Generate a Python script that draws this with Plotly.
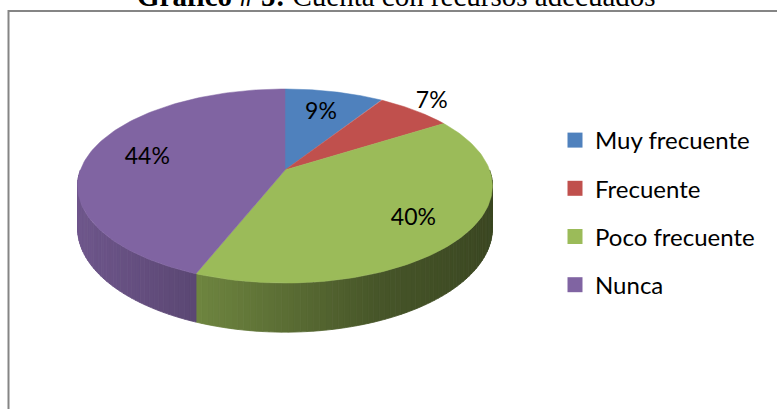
import numpy as np
import plotly.graph_objects as go

# ---- data ----
categories = ["Muy frecuente", "Frecuente", "Poco frecuente", "Nunca"]
values = [9, 7, 40, 44]
colors = ["#4f81bd", "#c0504d", "#9bbb59", "#8064a2"]
title_bold = "Gráfico # 5:"
title_rest = "Cuenta con recursos adecuados"

# ---- geometry / style (page-pixel space) ----
W, H = 777, 409
CX, CY = 285, 170          # projected hub
RX, RY = 204.6, 94.4       # radii
K = 0.165                  # perspective factor
DEPTH = 41                 # pie thickness
label_r = [0.7, 1.15, 0.75, 0.7]
shade_x = [77, 197, 375, 492]
shade_f = [0.86, 0.71, 0.46, 0.38]


def proj(theta, r=1.0, z=0.0):
    c = r * np.cos(theta)
    s = r * np.sin(theta)
    den = 1 + K * s
    return CX + RX * c / den, CY - RY * s / den + z / den


def shade(hexcol, f):
    h = hexcol.lstrip("#")
    rgb = [int(h[i:i + 2], 16) for i in (0, 2, 4)]
    return "rgb(%d,%d,%d)" % tuple(max(0, min(255, round(v * f))) for v in rgb)


total = sum(values)
cum = np.concatenate([[0], np.cumsum(values)])
starts = np.pi / 2 - 2 * np.pi * cum[:-1] / total
ends = np.pi / 2 - 2 * np.pi * cum[1:] / total

fig = go.Figure()

# ---- sides (front half only) ----
front_lo, front_hi = -np.pi, 0.0
for i in range(len(values)):
    a0, a1 = ends[i], starts[i]  # a0 < a1
    for off in (0.0, -2 * np.pi, 2 * np.pi):
        lo = max(a0 + off, front_lo)
        hi = min(a1 + off, front_hi)
        if hi <= lo:
            continue
        n = max(1, int(np.ceil((hi - lo) / np.radians(1.5))))
        edges = np.linspace(lo, hi, n + 1)
        for j in range(n):
            ta, tb = edges[j], edges[j + 1]
            ts = np.linspace(ta, tb, 4)
            xt, yt = proj(ts)
            xb, yb = proj(ts[::-1], z=DEPTH)
            xs = np.concatenate([xt, xb, xt[:1]])
            ys = np.concatenate([yt, yb, yt[:1]])
            f = float(np.interp(xt.mean(), shade_x, shade_f))
            col = shade(colors[i], f)
            fig.add_trace(go.Scatter(
                x=xs, y=ys, mode="lines", fill="toself", fillcolor=col,
                line=dict(color=col, width=0.8), hoverinfo="skip",
                showlegend=False))

# ---- top faces ----
for i in range(len(values)):
    ts = np.linspace(starts[i], ends[i], 120)
    xa, ya = proj(ts)
    xs = np.concatenate([[CX], xa, [CX]])
    ys = np.concatenate([[CY], ya, [CY]])
    fig.add_trace(go.Scatter(
        x=xs, y=ys, mode="lines", fill="toself", fillcolor=colors[i],
        line=dict(color=colors[i], width=0.5), hoverinfo="skip",
        showlegend=False))

# ---- data labels ----
mids = (starts + ends) / 2
lx, ly = [], []
for i in range(len(values)):
    x, y = proj(mids[i], r=label_r[i])
    lx.append(float(x))
    ly.append(float(y))
pct = [f"{round(v / total * 100)}%" for v in values]
fig.add_trace(go.Scatter(
    x=lx, y=ly, mode="text", text=pct,
    textfont=dict(family="Lato", size=23, color="#000000"),
    hoverinfo="skip", showlegend=False))

# ---- legend entries ----
for cat, col in zip(categories, colors):
    fig.add_trace(go.Scatter(
        x=[None], y=[None], mode="markers", name=cat, legendgroup=cat,
        marker=dict(symbol="square", size=15, color=col),
        hoverinfo="skip"))

# ---- frame & title ----
fig.add_shape(type="rect", xref="x", yref="y", x0=8.5, y0=11, x1=W + 40, y1=H + 40,
              line=dict(color="#858585", width=2), fillcolor="rgba(0,0,0,0)",
              layer="below")
fig.add_annotation(
    xref="x", yref="y", x=396.5, y=14, xanchor="center", yanchor="bottom",
    text=f"<b>{title_bold}</b> {title_rest}", showarrow=False,
    font=dict(family="Liberation Serif", size=29, color="#000000"))

fig.update_layout(
    width=W, height=H, margin=dict(l=0, r=0, t=0, b=0),
    paper_bgcolor="white", plot_bgcolor="white",
    xaxis=dict(range=[0, W], visible=False, fixedrange=True),
    yaxis=dict(range=[H, 0], visible=False, fixedrange=True),
    hovermode=False,
    legend=dict(x=555 / W, y=1 - 118 / H, xanchor="left", yanchor="top",
                font=dict(family="Lato", size=24, color="#000000"),
                tracegroupgap=14, bgcolor="rgba(0,0,0,0)"),
)

fig.write_html("out.html", config={"displayModeBar": False},
               post_script="document.body.style.margin='0px';document.body.style.overflow='hidden';")
